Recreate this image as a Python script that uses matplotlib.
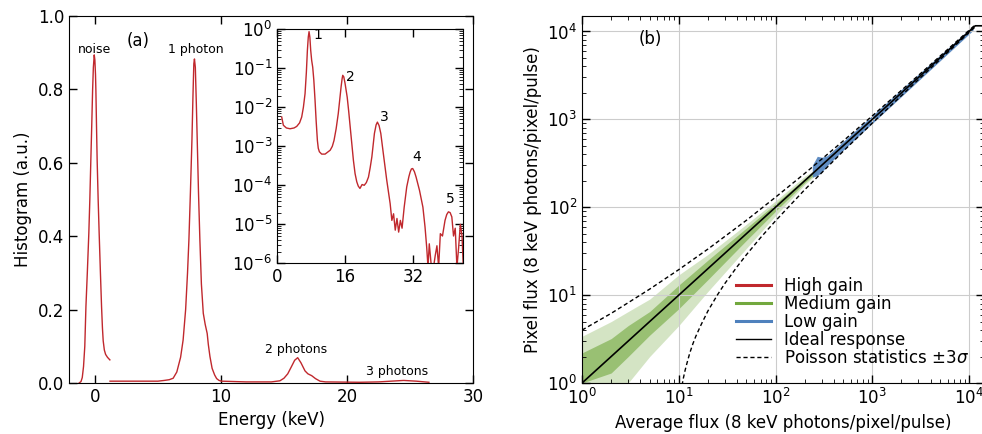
import matplotlib.pyplot as plt
import numpy as np

# ---- panel (a): linear histogram ----
noise_x = [-1.25, -1.1, -1.0, -0.9, -0.8, -0.71, -0.6, -0.48, -0.4, -0.32, -0.25, -0.18, -0.12, -0.05,
           0.0, 0.05, 0.08, 0.13, 0.18, 0.26, 0.34, 0.44, 0.53, 0.6, 0.66, 0.75, 0.85, 1.0, 1.19]
noise_y = [0.0, 0.004, 0.015, 0.045, 0.1, 0.208, 0.3, 0.408, 0.5, 0.608, 0.7, 0.798, 0.86, 0.894,
           0.88, 0.84, 0.798, 0.7, 0.608, 0.5, 0.408, 0.3, 0.208, 0.15, 0.115, 0.09, 0.078, 0.07, 0.063]

photon_x = [1.2, 3.0, 5.0, 5.5, 5.9, 6.21, 6.5, 6.8, 7.0, 7.2, 7.35, 7.46, 7.58, 7.7, 7.78, 7.85, 7.9,
            7.97, 8.05, 8.12, 8.22, 8.33, 8.45, 8.6, 8.75, 8.91, 9.0, 9.13, 9.3, 9.5, 9.66, 9.85, 10.05,
            12.0, 14.0, 14.68, 15.0, 15.3, 15.6, 15.85, 16.09, 16.35, 16.67, 16.9, 17.2, 17.5, 17.86, 18.3,
            21.0, 22.5, 23.5, 24.5, 25.5, 26.5]
photon_y = [0.005, 0.005, 0.005, 0.007, 0.009, 0.013, 0.03, 0.07, 0.117, 0.2, 0.3, 0.39, 0.52, 0.662, 0.78, 0.87, 0.883,
            0.86, 0.76, 0.662, 0.52, 0.39, 0.27, 0.19, 0.16, 0.135, 0.105, 0.072, 0.04, 0.022, 0.012, 0.007, 0.005,
            0.003, 0.003, 0.006, 0.013, 0.025, 0.045, 0.062, 0.069, 0.055, 0.033, 0.025, 0.02, 0.012, 0.005, 0.003,
            0.002, 0.003, 0.005, 0.007, 0.005, 0.002]

# inset: log10 of histogram vs energy
inset_x = [1.1, 1.49, 2.2, 3.06, 4.0, 4.63, 5.3, 5.8, 6.2, 6.59, 6.9, 7.14, 7.35, 7.53, 7.72, 7.92, 8.15, 8.39, 8.65, 8.94,
           9.2, 9.49, 9.7, 9.96, 10.5, 11.3, 12.5, 13.0, 13.4, 13.9, 14.4, 14.75, 15.06, 15.3, 15.45, 15.7, 16.0,
           16.5, 16.85, 17.2, 17.6, 17.96, 18.35, 18.75, 19.1, 19.5, 20.0, 20.5, 21.0, 21.5, 21.9, 22.3, 22.9,
           23.3, 23.6, 24.0, 24.4, 25.0, 25.8, 26.6, 27.0, 27.4, 27.8, 28.2, 28.6, 29.0, 29.4, 29.9, 30.5,
           31.0, 31.3, 31.6, 31.9, 32.3, 32.7, 33.5, 34.3, 34.8, 35.2, 35.5, 35.8, 36.3, 36.8, 37.2, 37.6,
           38.0, 38.4, 38.9, 39.5, 39.9, 40.3, 40.7, 41.1, 41.5, 41.9, 42.3, 42.7, 43.1, 43.5, 43.8]
inset_log = [-2.25, -2.46, -2.53, -2.55, -2.53, -2.49, -2.4, -2.25, -2.0, -1.65, -1.1, -0.54, -0.2, -0.06, -0.2, -0.54,
             -0.8, -0.97, -1.3, -1.82, -2.35, -2.85, -3.05, -3.14, -3.2, -3.2, -3.1, -3.0, -2.85, -2.55, -2.16,
             -1.8, -1.48, -1.27, -1.18, -1.22, -1.39, -1.74, -2.1, -2.5, -2.95, -3.36, -3.7, -3.91, -4.02,
             -4.08, -3.98, -4.0, -3.93, -3.79, -3.55, -3.27, -2.67, -2.45, -2.38, -2.47, -2.67, -3.19, -3.87,
             -4.47, -4.9, -4.73, -5.15, -4.85, -5.2, -4.9, -5.1, -4.56, -4.04, -3.78, -3.66, -3.58, -3.57,
             -3.65, -3.79, -4.13, -4.56, -5.07, -5.6, -6.1, -5.5, -6.1, -6.1, -5.8, -5.55, -6.1, -5.24, -5.3,
             -4.9, -4.75, -4.68, -4.7, -4.81, -5.3, -5.1, -6.1, -5.6, -5.0, -5.3, -6.1]

# ---- panel (b): flux response ----
ideal_x = [1, 1.16e4, 1.5e4]
ideal_y = [1, 1.16e4, 1.16e4]

pois_x = [1, 2, 3, 5, 10, 20, 50, 100, 200, 500, 1000, 3000, 1.16e4]
pois_hi = [4, 6.2, 8.2, 11.7, 19.5, 33.4, 71, 130, 242, 567, 1095, 3164, 1.19e4]
pois_lo_x = [10.8, 11.2, 11.6, 12, 13, 14, 15, 17, 20, 25, 30, 40, 50, 70, 100, 200, 500, 1000, 3000, 1.16e4]
pois_lo = [0.94, 1.16, 1.38, 1.6, 2.2, 2.8, 3.4, 4.6, 6.6, 10, 13.6, 21, 28.8, 45, 70, 158, 433, 905, 2836, 1.13e4]

green_x = [1, 2, 3, 5, 10, 20, 50, 100, 200, 268]
green_out_lo = [0.8, 0.9, 1.0, 2.0, 4.5, 11, 34, 80, 180, 240]
green_out_hi = [3.4, 5.0, 6.5, 9.0, 17, 29, 64, 118, 225, 275]
green_core_lo = [1.0, 1.3, 2.0, 3.5, 7, 15, 42, 90, 190, 250]
green_core_hi = [2.2, 3.2, 4.5, 6.5, 13, 25, 58, 110, 212, 265]

blue_x = [240, 270, 300, 340, 500, 1000, 3000, 1.1e4]
blue_lo = [220, 228, 250, 295, 445, 900, 2750, 1.03e4]
blue_hi = [300, 380, 370, 385, 560, 1110, 3270, 1.15e4]

RED = '#c0282d'
GREEN = '#72a83e'
BLUE = '#4f81bd'

plt.rcParams['font.size'] = 12
plt.rcParams['xtick.direction'] = 'in'
plt.rcParams['ytick.direction'] = 'in'

fig = plt.figure(figsize=(9.82, 4.34), dpi=100)

# panel (a)
ax1 = fig.add_axes([0.0703, 0.1175, 0.4114, 0.8456])
ax1.plot(noise_x, noise_y, color=RED, lw=1)
ax1.plot(photon_x, photon_y, color=RED, lw=1)
ax1.set_xlim(-2.05, 30)
ax1.set_ylim(0, 1.0)
ax1.set_xticks([0, 10, 20, 30])
ax1.set_yticks([0.0, 0.2, 0.4, 0.6, 0.8, 1.0])
ax1.tick_params(top=True, right=True, length=6, width=1)
ax1.set_xlabel('Energy (keV)')
ax1.set_ylabel('Histogram (a.u.)')
ax1.text(0, 0.91, 'noise', ha='center', va='center', fontsize=9)
ax1.text(8.0, 0.91, '1 photon', ha='center', va='center', fontsize=9)
ax1.text(16.0, 0.092, '2 photons', ha='center', va='center', fontsize=9)
ax1.text(24.0, 0.031, '3 photons', ha='center', va='center', fontsize=9)
ax1.text(3.4, 0.933, '(a)', ha='center', va='center', fontsize=12)

# inset
axi = fig.add_axes([0.2821, 0.3933, 0.1897, 0.5392])
axi.plot(inset_x, 10.0 ** np.array(inset_log), color=RED, lw=1)
axi.set_yscale('log')
axi.set_xlim(0, 43.8)
axi.set_ylim(1e-6, 1)
axi.set_xticks([0, 16, 32])
axi.set_yticks([1e-6, 1e-5, 1e-4, 1e-3, 1e-2, 1e-1, 1])
axi.tick_params(top=True, right=True, which='both')
axi.tick_params(which='major', length=6, width=1)
axi.tick_params(which='minor', length=3)
for lbl, lx, ly in [('1', 9.5, -0.15), ('2', 17.3, -1.22), ('3', 25.2, -2.25), ('4', 32.9, -3.27), ('5', 40.7, -4.34)]:
    axi.text(lx, 10 ** ly, lbl, ha='center', va='center', fontsize=10)

# panel (b)
ax2 = fig.add_axes([0.5927, 0.1175, 0.4094, 0.8445])
ax2.set_xscale('log')
ax2.set_yscale('log')
ax2.fill_between(green_x, green_out_lo, green_out_hi, color=GREEN, alpha=0.3, lw=0)
ax2.fill_between(green_x, green_core_lo, green_core_hi, color=GREEN, alpha=0.6, lw=0)
ax2.fill_between(blue_x, blue_lo, blue_hi, color=BLUE, alpha=0.9, lw=0)
ax2.plot(ideal_x, ideal_y, color='black', lw=1.2)
ax2.plot(pois_x, pois_hi, color='black', lw=1, ls=(0, (3, 2)))
ax2.plot(pois_lo_x, pois_lo, color='black', lw=1, ls=(0, (3, 2)))
ax2.set_xlim(1, 1.43e4)
ax2.set_ylim(1, 1.48e4)
ax2.grid(True, which='major', color='#cccccc', lw=0.8)
ax2.tick_params(top=True, right=True, which='both')
ax2.tick_params(which='major', length=6, width=1)
ax2.tick_params(which='minor', length=3)
ax2.set_xlabel('Average flux (8 keV photons/pixel/pulse)')
ax2.set_ylabel('Pixel flux (8 keV photons/pixel/pulse)')
ax2.text(5.05, 8100, '(b)', ha='center', va='center', fontsize=12)

handles = [
    plt.Line2D([], [], color=RED, lw=2.2),
    plt.Line2D([], [], color=GREEN, lw=2.2),
    plt.Line2D([], [], color=BLUE, lw=2.2),
    plt.Line2D([], [], color='black', lw=1),
    plt.Line2D([], [], color='black', lw=1, ls=(0, (3, 2))),
]
labels = ['High gain', 'Medium gain', 'Low gain', 'Ideal response', r'Poisson statistics $\pm 3\sigma$']
ax2.legend(handles, labels, loc='lower left', bbox_to_anchor=(0.383, 0.045), frameon=False,
           borderpad=0, borderaxespad=0, handlelength=2.1, handletextpad=0.8, labelspacing=0.0,
           fontsize=12)

fig.savefig('out.png', dpi=100)
